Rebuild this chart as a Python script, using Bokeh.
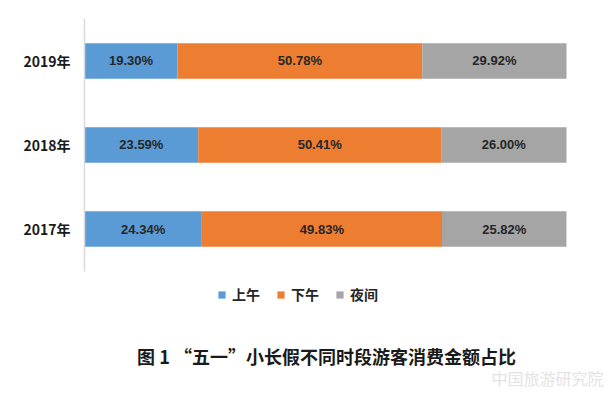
from bokeh.plotting import figure
from bokeh.models import (ColumnDataSource, Legend, LegendItem, Label, Range1d,
                          FixedTicker)
from bokeh.core.properties import value
from bokeh.embed import file_html
from bokeh.resources import INLINE

years = ["2017年", "2018年", "2019年"]
morning = [24.34, 23.59, 19.30]
afternoon = [49.83, 50.41, 50.78]
night = [25.82, 26.00, 29.92]
series_names = ["上午", "下午", "夜间"]
colors = ["#5B9BD5", "#ED7D31", "#A5A5A5"]
title_text = "图 1 “五一”小长假不同时段游客消费金额占比"
watermark = "中国旅游研究院"

pos = list(range(len(years)))
src = ColumnDataSource(dict(y=pos, m=morning, a=afternoon, n=night))

# frame: x 84..611 (100% -> 482px), y 0..393 (one category step -> 84px)
p = figure(width=611, height=393,
           x_range=Range1d(0, 100 * 527 / 482), y_range=Range1d(-1.9583, 2.7202),
           output_backend="svg", toolbar_location=None,
           min_border_left=84, min_border_right=0, min_border_top=0, min_border_bottom=0)
p.outline_line_color = None
p.background_fill_color = "white"
p.border_fill_color = "white"
p.xgrid.visible = False
p.ygrid.visible = False
p.xaxis.visible = False

rs = p.hbar_stack(["m", "a", "n"], y="y", height=0.42, color=colors, source=src,
                  line_color=None)

# segment labels
cum_left = [0.0] * len(years)
xs, ys, ts = [], [], []
for vals in (morning, afternoon, night):
    for i, v in enumerate(vals):
        xs.append(cum_left[i] + v / 2)
        ys.append(pos[i])
        ts.append(f"{v:.2f}%")
        cum_left[i] += v
p.text(x=xs, y=ys, text=ts, text_align="center", text_baseline="middle",
       text_font=value("Liberation Sans"), text_font_style="bold",
       text_font_size="13px", text_color="#262626")

ax = p.yaxis[0]
ax.ticker = FixedTicker(ticks=pos)
ax.major_label_overrides = {i: y for i, y in zip(pos, years)}
ax.bounds = (-0.5, len(years) - 0.5)
ax.axis_line_color = "#D9D9D9"
ax.axis_line_width = 1.5
ax.major_tick_line_color = None
ax.minor_tick_line_color = None
ax.major_label_text_font = "Noto Sans CJK SC"
ax.major_label_text_font_style = "bold"
ax.major_label_text_font_size = "14px"
ax.major_label_text_color = "#1a1a1a"
ax.major_label_standoff = 8

legend = Legend(items=[LegendItem(label=n, renderers=[r]) for n, r in zip(series_names, rs)],
                orientation="horizontal", location=(133, 89), padding=0, margin=0,
                glyph_width=9, glyph_height=9, label_standoff=6, spacing=16,
                border_line_color=None, background_fill_alpha=0,
                label_text_font="Noto Sans CJK SC", label_text_font_style="bold",
                label_text_font_size="14px", label_text_color="#262626")
p.add_layout(legend, "center")

p.add_layout(Label(x=242, y=38, x_units="screen", y_units="screen", text=title_text,
                   text_align="center", text_baseline="middle",
                   text_font="Noto Sans CJK SC", text_font_style="bold",
                   text_font_size="18px", text_color="#1a1a1a"))
p.add_layout(Label(x=463, y=16, x_units="screen", y_units="screen", text=watermark,
                   text_align="center", text_baseline="middle",
                   text_font="Noto Sans CJK SC", text_font_size="16px",
                   text_color="#E3E3E3"))

open("out.html", "w").write(file_html(p, INLINE))
